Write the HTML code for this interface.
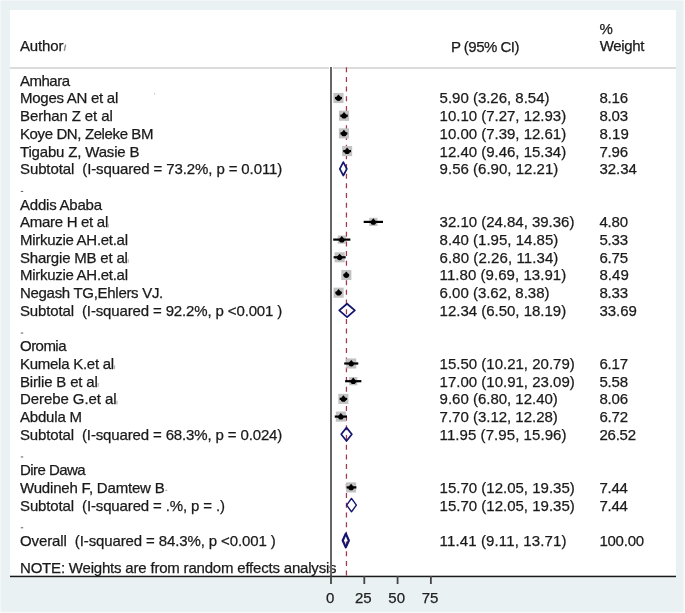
<!DOCTYPE html>
<html><head><meta charset="utf-8"><title>Forest plot</title>
<style>html,body{margin:0;padding:0;background:#eaf1f3;}svg{display:block;will-change:transform;}text{font-family:"Liberation Sans", sans-serif;white-space:pre;stroke:#1a1a1a;stroke-width:0.25px;}</style>
</head><body>
<svg width="685" height="613" viewBox="0 0 685 613" font-family='"Liberation Sans", sans-serif' font-size="15"><rect x="0" y="0" width="685" height="613" fill="#eaf1f3"/>
<rect x="0" y="0" width="685" height="0.9" fill="#f5f8f9"/>
<rect x="0" y="0" width="0.9" height="613" fill="#f5f8f9"/>
<rect x="683.6" y="0" width="1.4" height="613" fill="#fafcfc"/>
<rect x="0" y="611.8" width="685" height="1.2" fill="#fafcfc"/>
<rect x="10" y="10" width="666" height="566" fill="#fff"/>
<rect x="10" y="67" width="319" height="2" fill="#dcdcdc"/>
<rect x="333" y="67" width="343" height="2" fill="#dcdcdc"/>
<rect x="154" y="92.9" width="1.1" height="1.8" fill="#cdcdcd"/>
<text x="20.00" y="51.20" textLength="43.43" lengthAdjust="spacing" fill="#1a1a1a">Author</text>
<line x1="64.3" y1="50.8" x2="65.6" y2="44.6" stroke="#8a8a8a" stroke-width="1.4"/>
<text x="451.00" y="51.80" textLength="68.42" lengthAdjust="spacing" fill="#1a1a1a">P (95% CI)</text>
<text x="599.50" y="33.60" fill="#1a1a1a">%</text>
<text x="599.70" y="50.80" textLength="44.71" lengthAdjust="spacing" fill="#1a1a1a">Weight</text>
<line x1="346.45" y1="67.2" x2="346.45" y2="576" stroke="#a5374a" stroke-width="1.25" stroke-dasharray="5 4.68"/>
<text x="20.00" y="85.70" textLength="50.00" lengthAdjust="spacing" fill="#1a1a1a">Amhara</text>
<text x="20.00" y="103.40" textLength="98.29" lengthAdjust="spacing" fill="#1a1a1a">Moges AN et al</text>
<text x="439.60" y="103.40" textLength="109.89" lengthAdjust="spacing" fill="#1a1a1a">5.90 (3.26, 8.54)</text>
<text x="599.40" y="103.40" textLength="28.70" lengthAdjust="spacing" fill="#1a1a1a">8.16</text>
<rect x="333.41" y="92.95" width="10.10" height="10.10" fill="#c2c2c2"/>
<line x1="334.94" y1="98.00" x2="341.97" y2="98.00" stroke="#000" stroke-width="2.2"/>
<path d="M338.46,94.40 L341.36,97.80 Q341.36,100.90 338.46,100.90 Q335.56,100.90 335.56,97.80 Z" fill="#000"/>
<text x="20.00" y="121.10" textLength="92.79" lengthAdjust="spacing" fill="#1a1a1a">Berhan Z et al</text>
<text x="439.60" y="121.10" textLength="126.57" lengthAdjust="spacing" fill="#1a1a1a">10.10 (7.27, 12.93)</text>
<text x="599.40" y="121.10" textLength="28.70" lengthAdjust="spacing" fill="#1a1a1a">8.03</text>
<rect x="339.00" y="110.65" width="10.10" height="10.10" fill="#c2c2c2"/>
<line x1="340.28" y1="115.70" x2="347.82" y2="115.70" stroke="#000" stroke-width="2.2"/>
<path d="M344.05,112.10 L346.95,115.50 Q346.95,118.60 344.05,118.60 Q341.15,118.60 341.15,115.50 Z" fill="#000"/>
<text x="20.00" y="138.80" textLength="133.49" lengthAdjust="spacing" fill="#1a1a1a">Koye DN, Zeleke BM</text>
<text x="439.60" y="138.80" textLength="126.57" lengthAdjust="spacing" fill="#1a1a1a">10.00 (7.39, 12.61)</text>
<text x="599.40" y="138.80" textLength="29.49" lengthAdjust="spacing" fill="#1a1a1a">8.19</text>
<rect x="338.87" y="128.35" width="10.10" height="10.10" fill="#c2c2c2"/>
<line x1="340.44" y1="133.40" x2="347.39" y2="133.40" stroke="#000" stroke-width="2.2"/>
<path d="M343.92,129.80 L346.82,133.20 Q346.82,136.30 343.92,136.30 Q341.02,136.30 341.02,133.20 Z" fill="#000"/>
<text x="20.00" y="156.50" textLength="119.48" lengthAdjust="spacing" fill="#1a1a1a">Tigabu Z, Wasie B</text>
<text x="439.60" y="156.50" textLength="126.57" lengthAdjust="spacing" fill="#1a1a1a">12.40 (9.46, 15.34)</text>
<text x="599.40" y="156.50" textLength="28.70" lengthAdjust="spacing" fill="#1a1a1a">7.96</text>
<rect x="342.06" y="146.05" width="10.10" height="10.10" fill="#c2c2c2"/>
<line x1="343.20" y1="151.10" x2="351.03" y2="151.10" stroke="#000" stroke-width="2.2"/>
<path d="M347.11,147.50 L350.01,150.90 Q350.01,154.00 347.11,154.00 Q344.21,154.00 344.21,150.90 Z" fill="#000"/>
<text x="20.00" y="174.20" textLength="262.24" lengthAdjust="spacing" fill="#1a1a1a">Subtotal  (I-squared = 73.2%, p = 0.011)</text>
<text x="439.60" y="174.20" textLength="118.70" lengthAdjust="spacing" fill="#1a1a1a">9.56 (6.90, 12.21)</text>
<text x="599.40" y="174.20" textLength="37.56" lengthAdjust="spacing" fill="#1a1a1a">32.34</text>
<path d="M339.79,168.80 L343.33,162.10 L346.86,168.80 L343.33,175.50 Z" fill="none" stroke="#14146e" stroke-width="1.7" stroke-linejoin="round"/>
<rect x="20.8" y="190.90" width="2.4" height="1.1" fill="#6a6a6a"/>
<text x="20.00" y="209.60" textLength="82.00" lengthAdjust="spacing" fill="#1a1a1a">Addis Ababa</text>
<text x="20.00" y="227.30" textLength="88.27" lengthAdjust="spacing" fill="#1a1a1a">Amare H et al</text>
<rect x="107.70" y="223.70" width="1.2" height="3.8" fill="#b4b4b4"/>
<text x="439.60" y="227.30" textLength="134.82" lengthAdjust="spacing" fill="#1a1a1a">32.10 (24.84, 39.36)</text>
<text x="599.40" y="227.30" textLength="28.69" lengthAdjust="spacing" fill="#1a1a1a">4.80</text>
<rect x="369.25" y="217.80" width="8.20" height="8.20" fill="#c2c2c2"/>
<line x1="363.68" y1="221.90" x2="383.02" y2="221.90" stroke="#000" stroke-width="2.2"/>
<path d="M373.35,218.30 L376.25,221.70 Q376.25,224.80 373.35,224.80 Q370.45,224.80 370.45,221.70 Z" fill="#000"/>
<text x="20.00" y="245.00" textLength="108.00" lengthAdjust="spacing" fill="#1a1a1a">Mirkuzie AH.et.al</text>
<text x="439.60" y="245.00" textLength="118.70" lengthAdjust="spacing" fill="#1a1a1a">8.40 (1.95, 14.85)</text>
<text x="599.40" y="245.00" textLength="28.70" lengthAdjust="spacing" fill="#1a1a1a">5.33</text>
<rect x="337.69" y="235.50" width="8.20" height="8.20" fill="#c2c2c2"/>
<line x1="333.20" y1="239.60" x2="350.38" y2="239.60" stroke="#000" stroke-width="2.2"/>
<path d="M341.79,236.00 L344.69,239.40 Q344.69,242.50 341.79,242.50 Q338.89,242.50 338.89,239.40 Z" fill="#000"/>
<text x="20.00" y="262.70" textLength="107.86" lengthAdjust="spacing" fill="#1a1a1a">Shargie MB et al</text>
<rect x="127.60" y="259.10" width="1.2" height="3.8" fill="#b4b4b4"/>
<text x="439.60" y="262.70" textLength="118.70" lengthAdjust="spacing" fill="#1a1a1a">6.80 (2.26, 11.34)</text>
<text x="599.40" y="262.70" textLength="28.70" lengthAdjust="spacing" fill="#1a1a1a">6.75</text>
<rect x="334.61" y="252.25" width="10.10" height="10.10" fill="#c2c2c2"/>
<line x1="333.61" y1="257.30" x2="345.70" y2="257.30" stroke="#000" stroke-width="2.2"/>
<path d="M339.66,253.70 L342.56,257.10 Q342.56,260.20 339.66,260.20 Q336.76,260.20 336.76,257.10 Z" fill="#000"/>
<text x="20.00" y="280.40" textLength="108.00" lengthAdjust="spacing" fill="#1a1a1a">Mirkuzie AH.et.al</text>
<text x="439.60" y="280.40" textLength="126.57" lengthAdjust="spacing" fill="#1a1a1a">11.80 (9.69, 13.91)</text>
<text x="599.40" y="280.40" textLength="29.49" lengthAdjust="spacing" fill="#1a1a1a">8.49</text>
<rect x="341.26" y="269.95" width="10.10" height="10.10" fill="#c2c2c2"/>
<line x1="343.50" y1="275.00" x2="349.12" y2="275.00" stroke="#000" stroke-width="2.2"/>
<path d="M346.31,271.40 L349.21,274.80 Q349.21,277.90 346.31,277.90 Q343.41,277.90 343.41,274.80 Z" fill="#000"/>
<text x="20.00" y="298.10" textLength="143.25" lengthAdjust="spacing" fill="#1a1a1a">Negash TG,Ehlers VJ.</text>
<text x="439.60" y="298.10" textLength="109.89" lengthAdjust="spacing" fill="#1a1a1a">6.00 (3.62, 8.38)</text>
<text x="599.40" y="298.10" textLength="28.70" lengthAdjust="spacing" fill="#1a1a1a">8.33</text>
<rect x="333.54" y="287.65" width="10.10" height="10.10" fill="#c2c2c2"/>
<line x1="335.42" y1="292.70" x2="341.76" y2="292.70" stroke="#000" stroke-width="2.2"/>
<path d="M338.59,289.10 L341.49,292.50 Q341.49,295.60 338.59,295.60 Q335.69,295.60 335.69,292.50 Z" fill="#000"/>
<text x="20.00" y="315.80" textLength="262.30" lengthAdjust="spacing" fill="#1a1a1a">Subtotal  (I-squared = 92.2%, p &lt;0.001 )</text>
<text x="439.60" y="315.80" textLength="126.57" lengthAdjust="spacing" fill="#1a1a1a">12.34 (6.50, 18.19)</text>
<text x="599.40" y="315.80" textLength="37.39" lengthAdjust="spacing" fill="#1a1a1a">33.69</text>
<path d="M339.26,310.40 L347.03,303.70 L354.82,310.40 L347.03,317.10 Z" fill="none" stroke="#14146e" stroke-width="1.8" stroke-linejoin="round"/>
<rect x="20.8" y="332.50" width="2.4" height="1.1" fill="#6a6a6a"/>
<text x="20.00" y="351.20" textLength="46.50" lengthAdjust="spacing" fill="#1a1a1a">Oromia</text>
<text x="20.00" y="368.90" textLength="94.12" lengthAdjust="spacing" fill="#1a1a1a">Kumela K.et al</text>
<rect x="113.90" y="365.30" width="1.2" height="3.8" fill="#b4b4b4"/>
<text x="439.60" y="368.90" textLength="135.14" lengthAdjust="spacing" fill="#1a1a1a">15.50 (10.21, 20.79)</text>
<text x="599.40" y="368.90" textLength="28.70" lengthAdjust="spacing" fill="#1a1a1a">6.17</text>
<rect x="346.19" y="358.45" width="10.10" height="10.10" fill="#c2c2c2"/>
<line x1="344.20" y1="363.50" x2="358.29" y2="363.50" stroke="#000" stroke-width="2.2"/>
<path d="M351.24,359.90 L354.14,363.30 Q354.14,366.40 351.24,366.40 Q348.34,366.40 348.34,363.30 Z" fill="#000"/>
<text x="20.00" y="386.60" textLength="77.86" lengthAdjust="spacing" fill="#1a1a1a">Birlie B et al</text>
<rect x="97.60" y="383.00" width="1.2" height="3.8" fill="#b4b4b4"/>
<text x="439.60" y="386.60" textLength="135.14" lengthAdjust="spacing" fill="#1a1a1a">17.00 (10.91, 23.09)</text>
<text x="599.40" y="386.60" textLength="28.70" lengthAdjust="spacing" fill="#1a1a1a">5.58</text>
<rect x="349.14" y="377.10" width="8.20" height="8.20" fill="#c2c2c2"/>
<line x1="345.13" y1="381.20" x2="361.35" y2="381.20" stroke="#000" stroke-width="2.2"/>
<path d="M353.24,377.60 L356.14,381.00 Q356.14,384.10 353.24,384.10 Q350.34,384.10 350.34,381.00 Z" fill="#000"/>
<text x="20.00" y="404.30" textLength="96.58" lengthAdjust="spacing" fill="#1a1a1a">Derebe G.et al</text>
<rect x="116.40" y="400.70" width="1.2" height="3.8" fill="#b4b4b4"/>
<text x="439.60" y="404.30" textLength="118.26" lengthAdjust="spacing" fill="#1a1a1a">9.60 (6.80, 12.40)</text>
<text x="599.40" y="404.30" textLength="28.70" lengthAdjust="spacing" fill="#1a1a1a">8.06</text>
<rect x="338.33" y="393.85" width="10.10" height="10.10" fill="#c2c2c2"/>
<line x1="339.66" y1="398.90" x2="347.11" y2="398.90" stroke="#000" stroke-width="2.2"/>
<path d="M343.38,395.30 L346.28,398.70 Q346.28,401.80 343.38,401.80 Q340.48,401.80 340.48,398.70 Z" fill="#000"/>
<text x="20.00" y="422.00" textLength="61.99" lengthAdjust="spacing" fill="#1a1a1a">Abdula M</text>
<text x="439.60" y="422.00" textLength="118.26" lengthAdjust="spacing" fill="#1a1a1a">7.70 (3.12, 12.28)</text>
<text x="599.40" y="422.00" textLength="28.70" lengthAdjust="spacing" fill="#1a1a1a">6.72</text>
<rect x="335.80" y="411.55" width="10.10" height="10.10" fill="#c2c2c2"/>
<line x1="334.75" y1="416.60" x2="346.95" y2="416.60" stroke="#000" stroke-width="2.2"/>
<path d="M340.85,413.00 L343.75,416.40 Q343.75,419.50 340.85,419.50 Q337.95,419.50 337.95,416.40 Z" fill="#000"/>
<text x="20.00" y="439.70" textLength="262.30" lengthAdjust="spacing" fill="#1a1a1a">Subtotal  (I-squared = 68.3%, p = 0.024)</text>
<text x="439.60" y="439.70" textLength="126.89" lengthAdjust="spacing" fill="#1a1a1a">11.95 (7.95, 15.96)</text>
<text x="599.40" y="439.70" textLength="36.70" lengthAdjust="spacing" fill="#1a1a1a">26.52</text>
<path d="M341.19,434.30 L346.51,427.60 L351.85,434.30 L346.51,441.00 Z" fill="none" stroke="#14146e" stroke-width="1.7" stroke-linejoin="round"/>
<rect x="20.8" y="456.40" width="2.4" height="1.1" fill="#6a6a6a"/>
<text x="20.00" y="475.10" textLength="65.60" lengthAdjust="spacing" fill="#1a1a1a">Dire Dawa</text>
<text x="20.00" y="492.80" textLength="144.74" lengthAdjust="spacing" fill="#1a1a1a">Wudineh F, Damtew B</text>
<rect x="165.30" y="489.80" width="1.9" height="1.1" fill="#a0a0a0"/>
<text x="439.60" y="492.80" textLength="135.14" lengthAdjust="spacing" fill="#1a1a1a">15.70 (12.05, 19.35)</text>
<text x="599.40" y="492.80" textLength="28.56" lengthAdjust="spacing" fill="#1a1a1a">7.44</text>
<rect x="346.06" y="482.35" width="10.10" height="10.10" fill="#c2c2c2"/>
<line x1="346.65" y1="487.40" x2="356.37" y2="487.40" stroke="#000" stroke-width="2.2"/>
<path d="M351.11,483.80 L354.01,487.20 Q354.01,490.30 351.11,490.30 Q348.21,490.30 348.21,487.20 Z" fill="#000"/>
<text x="20.00" y="510.50" textLength="204.98" lengthAdjust="spacing" fill="#1a1a1a">Subtotal  (I-squared = .%, p = .)</text>
<text x="439.60" y="510.50" textLength="135.14" lengthAdjust="spacing" fill="#1a1a1a">15.70 (12.05, 19.35)</text>
<text x="599.40" y="510.50" textLength="28.56" lengthAdjust="spacing" fill="#1a1a1a">7.44</text>
<path d="M346.65,505.10 L351.51,498.40 L356.37,505.10 L351.51,511.80 Z" fill="none" stroke="#14146e" stroke-width="1.4" stroke-linejoin="round"/>
<rect x="20.8" y="527.20" width="2.4" height="1.1" fill="#6a6a6a"/>
<text x="20.00" y="545.90" textLength="255.74" lengthAdjust="spacing" fill="#1a1a1a">Overall  (I-squared = 84.3%, p &lt;0.001 )</text>
<text x="439.60" y="545.90" textLength="126.89" lengthAdjust="spacing" fill="#1a1a1a">11.41 (9.11, 13.71)</text>
<text x="599.40" y="545.90" textLength="44.69" lengthAdjust="spacing" fill="#1a1a1a">100.00</text>
<path d="M342.73,540.50 L345.79,533.60 L348.86,540.50 L345.79,547.40 Z" fill="none" stroke="#14146e" stroke-width="2.2" stroke-linejoin="round"/>
<text x="20.00" y="572.90" textLength="316.59" lengthAdjust="spacing" fill="#1a1a1a">NOTE: Weights are from random effects analysis</text>
<rect x="330" y="67" width="2" height="509" fill="#666"/>
<rect x="10" y="575.7" width="666" height="1.5" fill="#1a1a1a"/>
<rect x="330.10" y="576" width="1.8" height="8" fill="#444"/>
<text x="330.10" y="603" text-anchor="middle" fill="#222">0</text>
<rect x="363.39" y="576" width="1.8" height="8" fill="#444"/>
<text x="363.39" y="603" text-anchor="middle" fill="#222">25</text>
<rect x="396.69" y="576" width="1.8" height="8" fill="#444"/>
<text x="396.69" y="603" text-anchor="middle" fill="#222">50</text>
<rect x="429.98" y="576" width="1.8" height="8" fill="#444"/>
<text x="429.98" y="603" text-anchor="middle" fill="#222">75</text></svg>
</body></html>
